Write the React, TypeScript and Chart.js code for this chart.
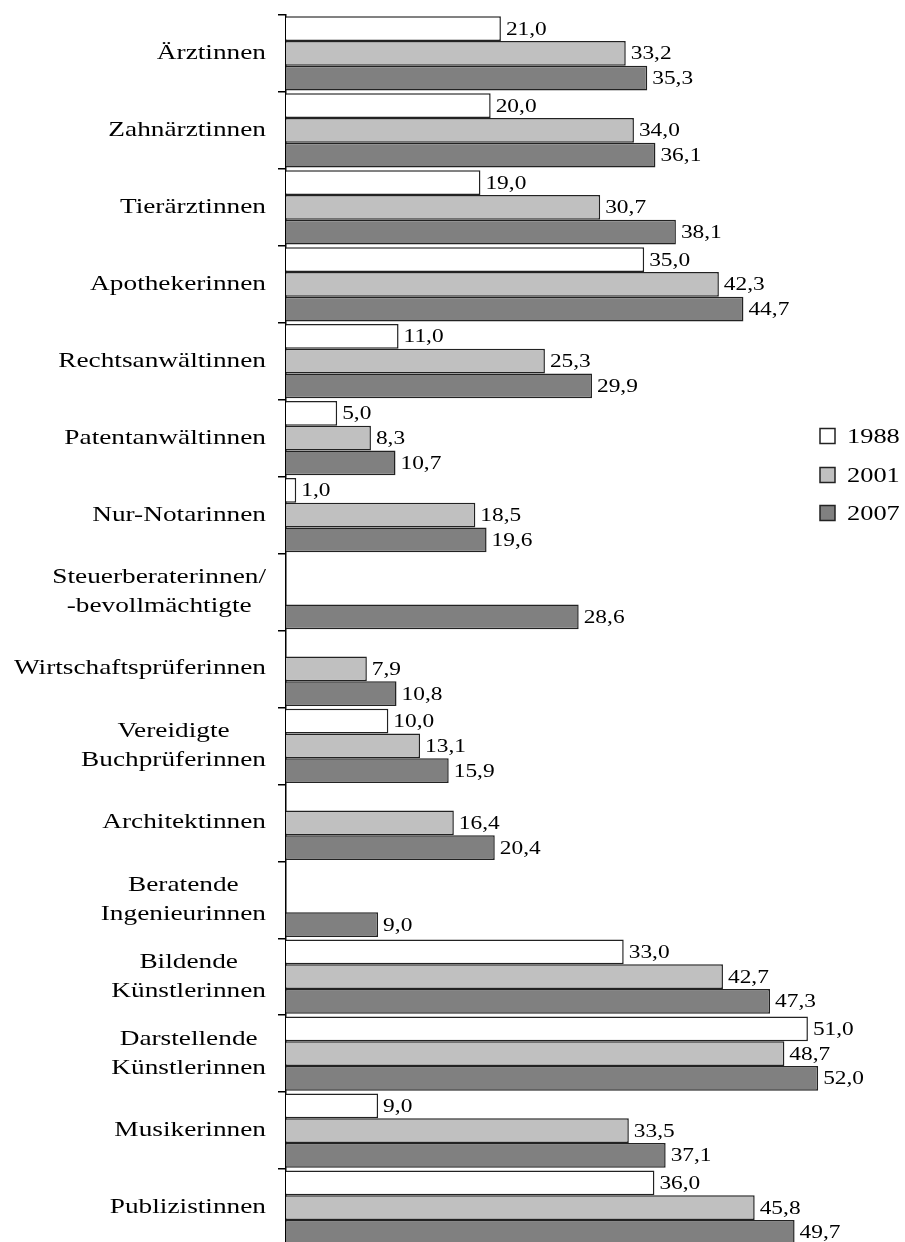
import React, { useEffect, useRef } from "react";
import { Chart, registerables } from "chart.js";

Chart.register(...registerables);

const categories: string[][] = [
  ["Ärztinnen"],
  ["Zahnärztinnen"],
  ["Tierärztinnen"],
  ["Apothekerinnen"],
  ["Rechtsanwältinnen"],
  ["Patentanwältinnen"],
  ["Nur-Notarinnen"],
  ["Steuerberaterinnen/", "-bevollmächtigte"],
  ["Wirtschaftsprüferinnen"],
  ["Vereidigte", "Buchprüferinnen"],
  ["Architektinnen"],
  ["Beratende", "Ingenieurinnen"],
  ["Bildende", "Künstlerinnen"],
  ["Darstellende", "Künstlerinnen"],
  ["Musikerinnen"],
  ["Publizistinnen"],
];

const years = ["1988", "2001", "2007"];

const values1988: (number | null)[] = [21.0, 20.0, 19.0, 35.0, 11.0, 5.0, 1.0, null, null, 10.0, null, null, 33.0, 51.0, 9.0, 36.0];
const values2001: (number | null)[] = [33.2, 34.0, 30.7, 42.3, 25.3, 8.3, 18.5, null, 7.9, 13.1, 16.4, null, 42.7, 48.7, 33.5, 45.8];
const values2007: (number | null)[] = [35.3, 36.1, 38.1, 44.7, 29.9, 10.7, 19.6, 28.6, 10.8, 15.9, 20.4, 9.0, 47.3, 52.0, 37.1, 49.7];

const seriesValues = [values1988, values2001, values2007];
const seriesColors = ["#ffffff", "#c0c0c0", "#808080"];

const FONT = '"Liberation Serif", "Times New Roman", serif';

function stretchedText(ctx: CanvasRenderingContext2D, text: string, x: number, y: number, sx: number, align: CanvasTextAlign) {
  ctx.save();
  ctx.translate(x, y);
  ctx.scale(sx, 1);
  ctx.textAlign = align;
  ctx.fillText(text, 0, 0);
  ctx.restore();
}

const textPlugin = {
  id: "customText",
  afterDraw(chart: any) {
    const ctx: CanvasRenderingContext2D = chart.ctx;
    const yScale = chart.scales.y;
    ctx.save();
    ctx.fillStyle = "#000";
    ctx.textBaseline = "middle";

    // category labels
    const labelSx = 1.3;
    const lineH = 29;
    ctx.font = `21px ${FONT}`;
    categories.forEach((lines, i) => {
      const cy = yScale.getPixelForValue(i);
      const widths = lines.map((l) => ctx.measureText(l).width * labelSx);
      const block = Math.max(...widths);
      const right = 266;
      const cx = right - block / 2;
      lines.forEach((l, k) => {
        const ly = cy + (k - (lines.length - 1) / 2) * lineH;
        stretchedText(ctx, l, cx, ly, labelSx, "center");
      });
    });

    // value labels
    ctx.font = `19px ${FONT}`;
    seriesValues.forEach((vals, d) => {
      const meta = chart.getDatasetMeta(d);
      meta.data.forEach((bar: any, i: number) => {
        const v = vals[i];
        if (v === null || v === undefined) return;
        const txt = v.toFixed(1).replace(".", ",");
        stretchedText(ctx, txt, bar.x + 5, bar.y + 1, 1.23, "left");
      });
    });

    // legend
    ctx.font = `22px ${FONT}`;
    const legendY = [436, 475, 513];
    years.forEach((y, k) => {
      const ly = legendY[k];
      ctx.fillStyle = seriesColors[k];
      ctx.fillRect(820, ly - 7.5, 15, 15);
      ctx.strokeStyle = "#222";
      ctx.lineWidth = 1.5;
      ctx.strokeRect(820, ly - 7.5, 15, 15);
      ctx.fillStyle = "#000";
      stretchedText(ctx, y, 847, ly + 1, 1.2, "left");
    });
    ctx.restore();
  },
};

export default function App() {
  const canvasRef = useRef<HTMLCanvasElement | null>(null);

  useEffect(() => {
    if (!canvasRef.current) return;
    const chart = new Chart(canvasRef.current, {
      type: "bar",
      data: {
        labels: categories,
        datasets: years.map((y, k) => ({
          label: y,
          data: seriesValues[k],
          backgroundColor: seriesColors[k],
          borderColor: "#222",
          borderWidth: 1.5,
          barPercentage: 1,
          categoryPercentage: 0.965,
        })),
      },
      options: {
        indexAxis: "y",
        responsive: false,
        animation: false,
        layout: { padding: { top: 15, right: 5, bottom: 4, left: 0 } },
        plugins: {
          legend: { display: false },
          tooltip: { enabled: false },
        },
        scales: {
          x: { display: false, min: 0, max: 60 },
          y: {
            display: true,
            ticks: { display: false },
            grid: {
              drawOnChartArea: false,
              drawTicks: true,
              tickLength: 8,
              color: "#000",
              lineWidth: 1.5,
              offset: true,
            },
            border: { display: true, color: "#000", width: 1.5 },
            afterFit: (scale: any) => {
              scale.width = 286;
            },
          },
        },
      },
      plugins: [textPlugin],
    } as any);
    return () => chart.destroy();
  }, []);

  return (
    <div
      style={{
        position: "absolute",
        left: 0,
        top: 0,
        width: 905,
        height: 1242,
        overflow: "hidden",
        background: "#fff",
      }}
    >
      <canvas ref={canvasRef} width={905} height={1250} style={{ display: "block" }} />
    </div>
  );
}
